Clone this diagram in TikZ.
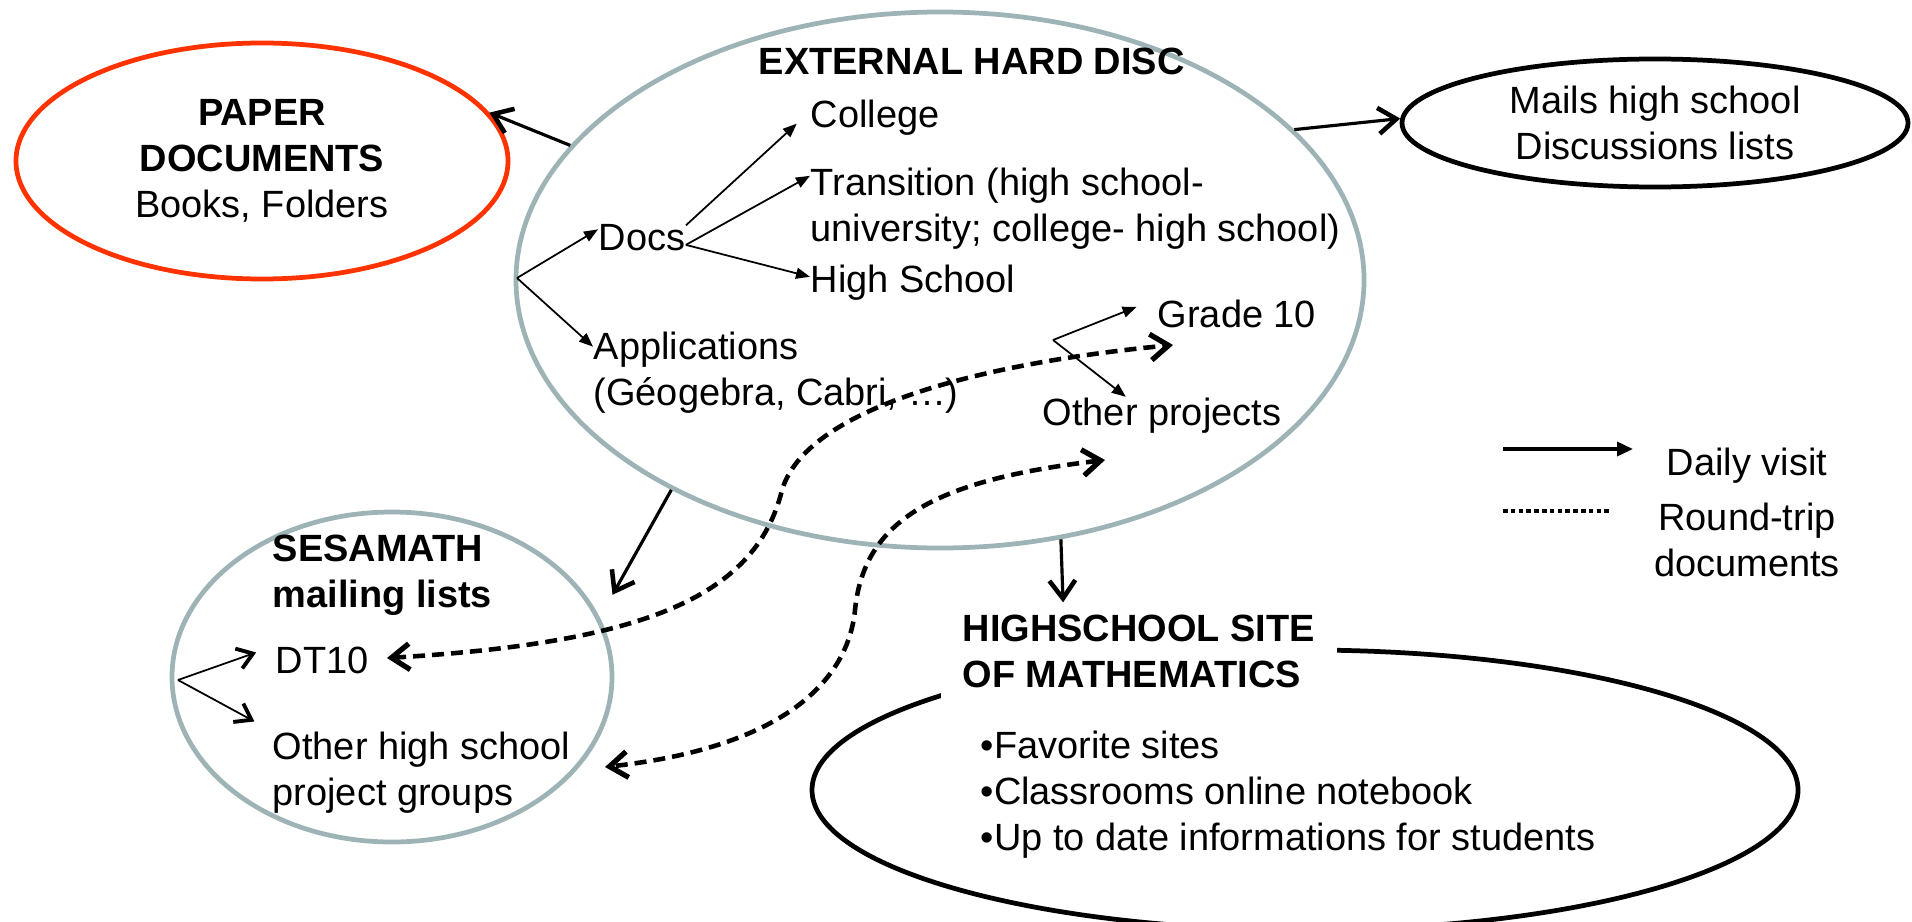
\documentclass[tikz,border=0pt]{standalone}
\usepackage{fontspec}
\setmainfont{Liberation Sans}
\usetikzlibrary{shapes.geometric,arrows.meta}
\definecolor{diskgray}{RGB}{157,179,182}
\definecolor{paperred}{RGB}{255,51,0}
\begin{document}
\begin{tikzpicture}[
    every node/.style={inner sep=0pt, font=\fontsize{10.8}{13.1}\selectfont},
    head/.style={font=\fontsize{10.8}{13.1}\selectfont\bfseries},
    place/.style={ellipse, line width=1.35pt},
    branch/.style={-{Triangle[length=0.14cm,width=0.11cm]}, line width=0.5pt},
    link/.style={-{Straight Barb[length=0.18cm,width=0.26cm,line width=1.3pt]}, line width=0.9pt},
    fork/.style={-{Straight Barb[length=0.15cm,width=0.21cm,line width=1.1pt]}, line width=0.5pt},
    trip/.style={{Straight Barb[length=0.18cm,width=0.26cm,line width=1.5pt]}-{Straight Barb[length=0.18cm,width=0.26cm,line width=1.5pt]},
      line width=1.3pt, dash pattern=on 0.12cm off 0.07cm}]
  \useasboundingbox (0,0) rectangle (19.12,-9.21);
  \node[place, draw=paperred, minimum width=4.92cm, minimum height=2.36cm, align=center]
    (paper) at (2.62,-1.61) {\textbf{PAPER}\\\textbf{DOCUMENTS}\\Books, Folders};
  \node[place, draw=diskgray, minimum width=8.48cm, minimum height=5.36cm] (disc) at (9.40,-2.80) {};
  \node[place, draw=black, minimum width=5.06cm, minimum height=1.28cm, align=center]
    (mails) at (16.55,-1.23) {Mails high school\\Discussions lists};
  \node[place, draw=diskgray, minimum width=4.40cm, minimum height=3.30cm] (ses) at (3.92,-6.77) {};
  \node[place, draw=black, minimum width=9.86cm, minimum height=2.80cm] (site) at (13.05,-7.90) {};

  \node[head, anchor=base west] (disctitle) at (7.58,-0.75) {EXTERNAL HARD DISC};
  \node[anchor=base west] (college) at (8.10,-1.27) {College};
  \node[anchor=north west, align=left] (trans) at (8.10,-1.67) {Transition (high school-\\university; college- high school)};
  \node[anchor=base west] (highs) at (8.10,-2.92) {High School};
  \node[anchor=base west] (docs) at (5.98,-2.50) {Docs};
  \node[anchor=north west, align=left] (appl) at (5.93,-3.31) {Applications\\(Géogebra, Cabri, …)};
  \node[anchor=base west] (grade) at (11.57,-3.27) {Grade 10};
  \node[anchor=base west] (otherp) at (10.42,-4.25) {Other projects};
  \node[head, anchor=north west, align=left] (sestitle) at (2.72,-5.34) {SESAMATH\\mailing lists};
  \node[anchor=base west] (dt) at (2.75,-6.73) {DT10};
  \node[anchor=north west, align=left] (groups) at (2.72,-7.31) {Other high school\\project groups};
  \node[head, anchor=west, align=left, fill=white, inner xsep=0.22cm, inner ysep=0.12cm]
    (sitetitle) at (9.40,-6.515) {HIGHSCHOOL SITE\\OF MATHEMATICS};
  \node[anchor=north west, align=left] (bullets) at (9.80,-7.30)
    {•Favorite sites\\•Classrooms online notebook\\•Up to date informations for students};
  \node[anchor=base] (daily) at (17.47,-4.75) {Daily visit};
  \node[anchor=north, align=center] (roundtrip) at (17.47,-5.02) {Round-trip\\documents};

  \coordinate (discfork) at (5.17,-2.78);
  \coordinate (gradefork) at (10.53,-3.40);
  \coordinate (sesfork) at (1.78,-6.80);
  \coordinate (dtend) at (3.87,-6.58);
  \coordinate (gradeend) at (11.73,-3.45);
  \coordinate (projend) at (11.05,-4.60);
  \coordinate (groupend) at (6.05,-7.67);
  \coordinate (keyvisit) at (15.03,-4.49);
  \coordinate (keytrip) at (15.03,-5.11);

  \draw[link] (disc.160) -- (paper.12);
  \draw[link] (disc.23) -- (mails.179);
  \draw[link, shorten >=0.26cm] (disc.218) -- (ses.16);
  \draw[link] (disc.-65) -- (sitetitle.147);

  \begin{scope}[branch]
    \draw (discfork) -- (docs.170);
    \draw (discfork) -- (appl.172);
    \draw[shorten >=0.18cm] (docs.15) -- (college.175);
    \draw (docs.-10) -- (trans.173);
    \draw (docs.-10) -- (highs.177);
    \draw[shorten >=0.22cm] (gradefork) -- (grade.north west);
    \draw (gradefork) -- (otherp.153);
  \end{scope}
  \draw[fork, shorten >=0.2cm] (sesfork) -- (dt.north west);
  \draw[fork, shorten >=0.2cm] (sesfork) -- (groups.north west);

  \draw[trip] (dtend) .. controls (6.37,-6.43) and (7.55,-6.00) .. (7.82,-4.90)
    .. controls (8.06,-4.10) and (9.73,-3.64) .. (gradeend);
  \draw[trip] (projend) .. controls (9.35,-4.80) and (8.64,-5.20) .. (8.55,-6.10)
    .. controls (8.48,-6.80) and (7.85,-7.47) .. (groupend);

  \draw[-{Triangle[length=0.16cm,width=0.14cm]}, line width=1pt] (keyvisit) -- ++(1.30,0);
  \draw[line width=1pt, dash pattern=on 0.045cm off 0.033cm] (keytrip) -- ++(1.09,0);
\end{tikzpicture}
\end{document}
